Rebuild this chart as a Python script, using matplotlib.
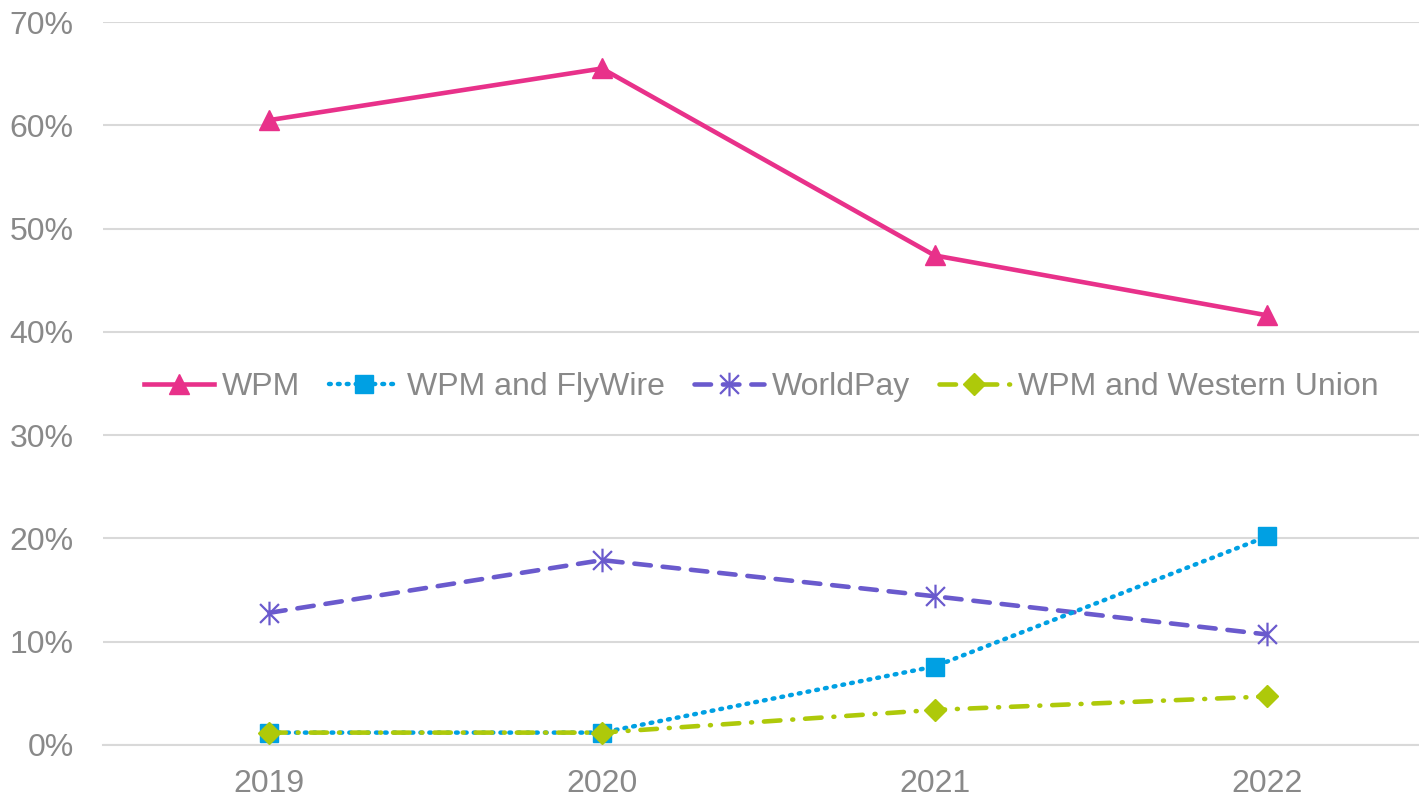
import matplotlib
matplotlib.use("Agg")
import matplotlib.pyplot as plt
from matplotlib.path import Path
from matplotlib.ticker import FuncFormatter

plt.rcParams['font.family'] = ['Liberation Sans', 'DejaVu Sans']

# --- data ---
years = ['2019', '2020', '2021', '2022']
wpm = [0.605, 0.655, 0.474, 0.416]
wpm_flywire = [0.012, 0.012, 0.076, 0.202]
worldpay = [0.128, 0.179, 0.144, 0.107]
wpm_western_union = [0.012, 0.012, 0.034, 0.047]

grey_text = '#898989'

# Excel-style star marker: vertical stroke plus an X
star = Path([(0, -1), (0, 1), (-0.8, -0.8), (0.8, 0.8), (-0.8, 0.8), (0.8, -0.8)],
            [Path.MOVETO, Path.LINETO, Path.MOVETO, Path.LINETO, Path.MOVETO, Path.LINETO])

fig = plt.figure(figsize=(14.19, 7.99), dpi=100)
ax = fig.add_axes([103 / 1419, 1 - 745 / 799, 1 - 103 / 1419, (745 - 22) / 799])

x = range(len(years))
ax.plot(x, wpm, color='#E8318A', lw=3.3, marker='^', ms=14, label='WPM', zorder=5)
ax.plot(x, wpm_flywire, color='#00A0E3', lw=3.2, ls=(0, (0.4, 1.6)), dash_capstyle='round',
        marker='s', ms=13, label='WPM and FlyWire', zorder=4)
ax.plot(x, worldpay, color='#6A5ACD', lw=3.3, ls=(0, (3.6, 2.6)), dash_capstyle='round',
        marker=star, ms=17, mew=1.6, label='WorldPay', zorder=3)
ax.plot(x, wpm_western_union, color='#AEC90A', lw=3.3, ls=(0, (3.6, 2.6, 0.2, 2.6)), dash_capstyle='round',
        marker='D', ms=11, label='WPM and Western Union', zorder=4)

ax.set_xlim(-0.5, (1419 - 268) / 333)
ax.set_ylim(0, 0.7)
ax.set_xticks(list(x))
ax.set_xticklabels(years)
ax.set_yticks([i / 10 for i in range(8)])
ax.yaxis.set_major_formatter(FuncFormatter(lambda v, p: f'{v * 100:.0f}%'))
ax.tick_params(length=0, labelsize=23, colors=grey_text)
ax.tick_params(axis='y', pad=21)
ax.tick_params(axis='x', pad=17)

ax.grid(axis='y', color='#D9D9D9', lw=1.5)
ax.set_axisbelow(True)
for side in ['top', 'right', 'left']:
    ax.spines[side].set_visible(False)
ax.spines['bottom'].set_color('#D9D9D9')
ax.spines['bottom'].set_linewidth(1.5)

leg = ax.legend(loc='center', ncol=4, frameon=False, fontsize=23, handlelength=2.2,
                columnspacing=0.9, handletextpad=0.25, bbox_to_anchor=(0.5, 0.495))
for t in leg.get_texts():
    t.set_color(grey_text)

fig.savefig('out.png', dpi=100)
